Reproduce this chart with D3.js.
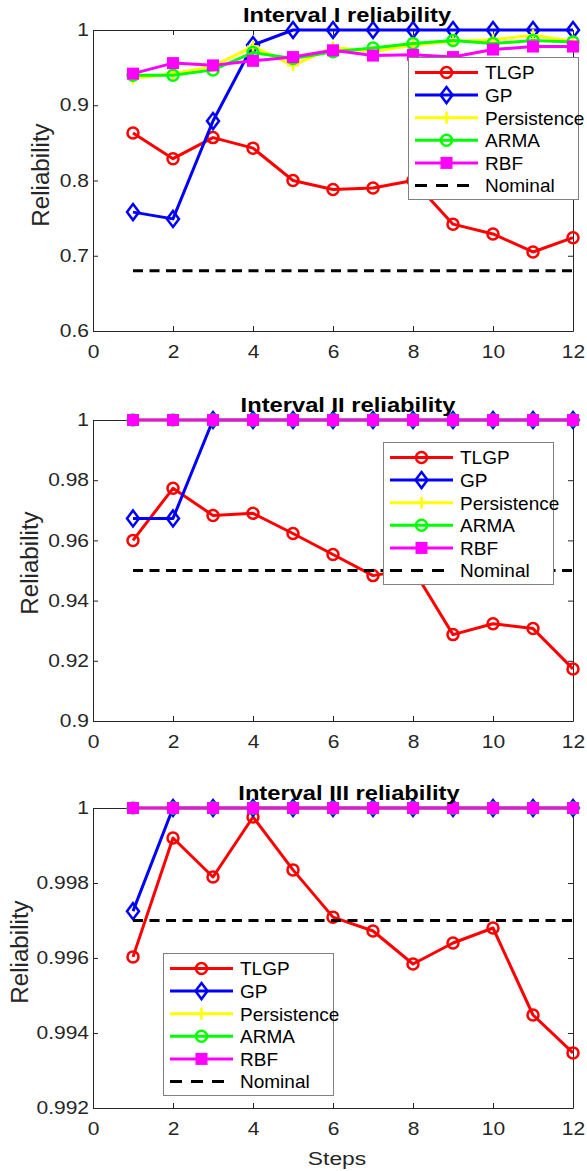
<!DOCTYPE html>
<html>
<head>
<meta charset="utf-8">
<script src="https://cdn.jsdelivr.net/npm/d3@7"></script>
<style>
  body { margin: 0; background: #fff; }
  svg { display: block; font-family: "Liberation Sans", Arial, sans-serif; }
</style>
</head>
<body>
<svg id="chart" width="587" height="1171"></svg>
<script>
// reliability per forecast step

var steps = [1, 2, 3, 4, 5, 6, 7, 8, 9, 10, 11, 12];
var seriesNames = ["TLGP", "GP", "Persistence", "ARMA", "RBF"];
var xTicks = [0, 2, 4, 6, 8, 10, 12];

// panel 1 : Interval I
var p1_tlgp = [0.863, 0.829, 0.857, 0.843, 0.800, 0.788, 0.790, 0.800, 0.742, 0.729, 0.705, 0.724];
var p1_gp   = [0.758, 0.749, 0.879, 0.980, 1, 1, 1, 1, 1, 1, 1, 1];
var p1_pers = [0.936, 0.942, 0.952, 0.978, 0.953, 0.977, 0.971, 0.980, 0.985, 0.987, 0.993, 0.985];
var p1_arma = [0.940, 0.940, 0.947, 0.970, 0.962, 0.971, 0.976, 0.982, 0.986, 0.982, 0.986, 0.984];
var p1_rbf  = [0.942, 0.956, 0.953, 0.959, 0.964, 0.973, 0.966, 0.967, 0.964, 0.974, 0.978, 0.978];
var p1_nominal = 0.68;
var p1_yTicks = [0.6, 0.7, 0.8, 0.9, 1];

// panel 2 : Interval II
var p2_tlgp = [0.9600, 0.9773, 0.9683, 0.9690, 0.9623, 0.9553, 0.9483, 0.9505, 0.9287, 0.9323, 0.9307, 0.9173];
var p2_gp   = [0.9673, 0.9673, 1, 1, 1, 1, 1, 1, 1, 1, 1, 1];
var p2_pers = [1, 1, 1, 1, 1, 1, 1, 1, 1, 1, 1, 1];
var p2_arma = [1, 1, 1, 1, 1, 1, 1, 1, 1, 1, 1, 1];
var p2_rbf  = [1, 1, 1, 1, 1, 1, 1, 1, 1, 1, 1, 1];
var p2_nominal = 0.95;
var p2_yTicks = [0.9, 0.92, 0.94, 0.96, 0.98, 1];

// panel 3 : Interval III
var p3_tlgp = [0.99603, 0.99920, 0.99816, 0.99976, 0.99835, 0.99709, 0.99672, 0.99584, 0.99640, 0.99680, 0.99448, 0.99347];
var p3_gp   = [0.99725, 1, 1, 1, 1, 1, 1, 1, 1, 1, 1, 1];
var p3_pers = [1, 1, 1, 1, 1, 1, 1, 1, 1, 1, 1, 1];
var p3_arma = [1, 1, 1, 1, 1, 1, 1, 1, 1, 1, 1, 1];
var p3_rbf  = [1, 1, 1, 1, 1, 1, 1, 1, 1, 1, 1, 1];
var p3_nominal = 0.997;
var p3_yTicks = [0.992, 0.994, 0.996, 0.998, 1];

// styles
var colors = ["#ff0000", "#0000ff", "#ffff00", "#00ff00", "#ff00ff"];
var markers = ["circle", "diamond", "plus", "circle", "square"];
var axisColor = "#262626";

var svg = d3.select("#chart");
var margin_l = 93, plot_w = 480;

var panels = [
  {title: "Interval I reliability", top: 30, h: 301, domain: [0.6, 1],
   yTicks: p1_yTicks, series: [p1_tlgp, p1_gp, p1_pers, p1_arma, p1_rbf], nominal: p1_nominal,
   legend: [408, 57], titleX: 347, labelX: 49, labelY: 175},
  {title: "Interval II reliability", top: 420, h: 301, domain: [0.9, 1],
   yTicks: p2_yTicks, series: [p2_tlgp, p2_gp, p2_pers, p2_arma, p2_rbf], nominal: p2_nominal,
   legend: [383, 442], titleX: 348, labelX: 38, labelY: 563},
  {title: "Interval III reliability", top: 808, h: 300, domain: [0.992, 1],
   yTicks: p3_yTicks, series: [p3_tlgp, p3_gp, p3_pers, p3_arma, p3_rbf], nominal: p3_nominal,
   legend: [163, 953], titleX: 349, labelX: 28, labelY: 952, xlabel: "Steps"}
];

var x = d3.scaleLinear().domain([0, 12]).range([0, plot_w]);

function drawMarker(sel, type, color) {
  if (type === "circle") {
    sel.append("circle").attr("r", 5.5).attr("fill", "none")
      .attr("stroke", color).attr("stroke-width", 2.5);
  } else if (type === "diamond") {
    sel.append("path").attr("d", "M0,-8L6,0L0,8L-6,0Z").attr("fill", "none")
      .attr("stroke", color).attr("stroke-width", 2.5);
  } else if (type === "square") {
    sel.append("rect").attr("x", -5).attr("y", -5).attr("width", 10).attr("height", 10)
      .attr("fill", color).attr("stroke", color).attr("stroke-width", 2);
  } else if (type === "plus") {
    sel.append("path").attr("d", "M-6,0H6M0,-6V6").attr("fill", "none")
      .attr("stroke", color).attr("stroke-width", 2.5);
  }
}

panels.forEach(function(p) {
  var g = svg.append("g").attr("transform", "translate(" + margin_l + "," + p.top + ")");
  var y = d3.scaleLinear().domain(p.domain).range([p.h, 0]);

  // axes: ticks point inward, box on
  var left = g.append("g").call(d3.axisLeft(y).tickValues(p.yTicks).tickSize(-5).tickSizeOuter(0)
    .tickPadding(0).tickFormat(d3.format("~g")));
  left.selectAll("text").attr("x", 0).attr("transform", "translate(-4,0) scale(1.2,1)");

  var bottom = g.append("g").attr("transform", "translate(0," + p.h + ")")
    .call(d3.axisBottom(x).tickValues(xTicks).tickSize(-5).tickSizeOuter(0).tickFormat(d3.format("d")));
  bottom.selectAll("text").attr("y", 27).attr("dy", null).attr("transform", "scale(1.2,1)");

  g.append("g").call(d3.axisTop(x).tickValues(xTicks).tickSize(-5).tickSizeOuter(0).tickFormat(""));
  g.append("g").attr("transform", "translate(" + plot_w + ",0)")
    .call(d3.axisRight(y).tickValues(p.yTicks).tickSize(-5).tickSizeOuter(0).tickFormat(""));

  g.selectAll(".domain, .tick line").attr("stroke", axisColor);
  g.selectAll(".tick text").attr("fill", axisColor).style("font-size", "17.5px")
    .style("font-family", "Liberation Sans, Arial, sans-serif");

  // series
  var line = d3.line().x(function(d, i) { return x(steps[i]); }).y(function(d) { return y(d); });
  p.series.forEach(function(vals, k) {
    g.append("path").datum(vals).attr("d", line).attr("fill", "none")
      .attr("stroke", colors[k]).attr("stroke-width", 3).attr("stroke-linejoin", "round");
    g.append("g").selectAll("g").data(vals).enter().append("g")
      .attr("transform", function(d, i) { return "translate(" + x(steps[i]) + "," + y(d) + ")"; })
      .each(function() { drawMarker(d3.select(this), markers[k], colors[k]); });
  });

  // nominal level
  g.append("line").attr("x1", x(steps[0])).attr("x2", x(steps[steps.length - 1]))
    .attr("y1", y(p.nominal)).attr("y2", y(p.nominal))
    .attr("stroke", "#000").attr("stroke-width", 3).attr("stroke-dasharray", "10,6.5");

  // title
  svg.append("text").attr("transform", "translate(" + p.titleX + "," + (p.top - 8) + ") scale(1.13,1)")
    .attr("text-anchor", "middle").style("font-size", "21px").style("font-weight", "bold")
    .text(p.title);

  // y label
  svg.append("text").attr("transform", "translate(" + p.labelX + "," + p.labelY + ") rotate(-90) scale(1.05,1)")
    .attr("text-anchor", "middle").style("font-size", "23px").attr("fill", axisColor)
    .text("Reliability");

  if (p.xlabel) {
    svg.append("text").attr("transform", "translate(337,1165) scale(1.2,1)")
      .attr("text-anchor", "middle").style("font-size", "19px").attr("fill", axisColor)
      .text(p.xlabel);
  }

  // legend
  var lg = svg.append("g").attr("transform", "translate(" + p.legend[0] + "," + p.legend[1] + ")");
  lg.append("rect").attr("x", 0.5).attr("y", 0.5).attr("width", 170).attr("height", 142)
    .attr("fill", "#fff").attr("stroke", "#808080").attr("stroke-width", 1);
  var names = seriesNames.concat(["Nominal"]);
  names.forEach(function(name, k) {
    var ry = 15.5 + k * 22.6;
    var row = lg.append("g").attr("transform", "translate(0," + ry + ")");
    var l = row.append("line").attr("x1", 7).attr("x2", 70).attr("y1", 0).attr("y2", 0)
      .attr("stroke-width", 3);
    if (k < 5) {
      l.attr("stroke", colors[k]);
      var m = row.append("g").attr("transform", "translate(38.5,0)");
      drawMarker(m, markers[k], colors[k]);
    } else {
      l.attr("stroke", "#000").attr("stroke-dasharray", "12,9");
    }
    row.append("text").attr("x", 77).attr("y", 6.8).style("font-size", "19px").attr("fill", "#000")
      .text(name);
  });
});
</script>
</body>
</html>
